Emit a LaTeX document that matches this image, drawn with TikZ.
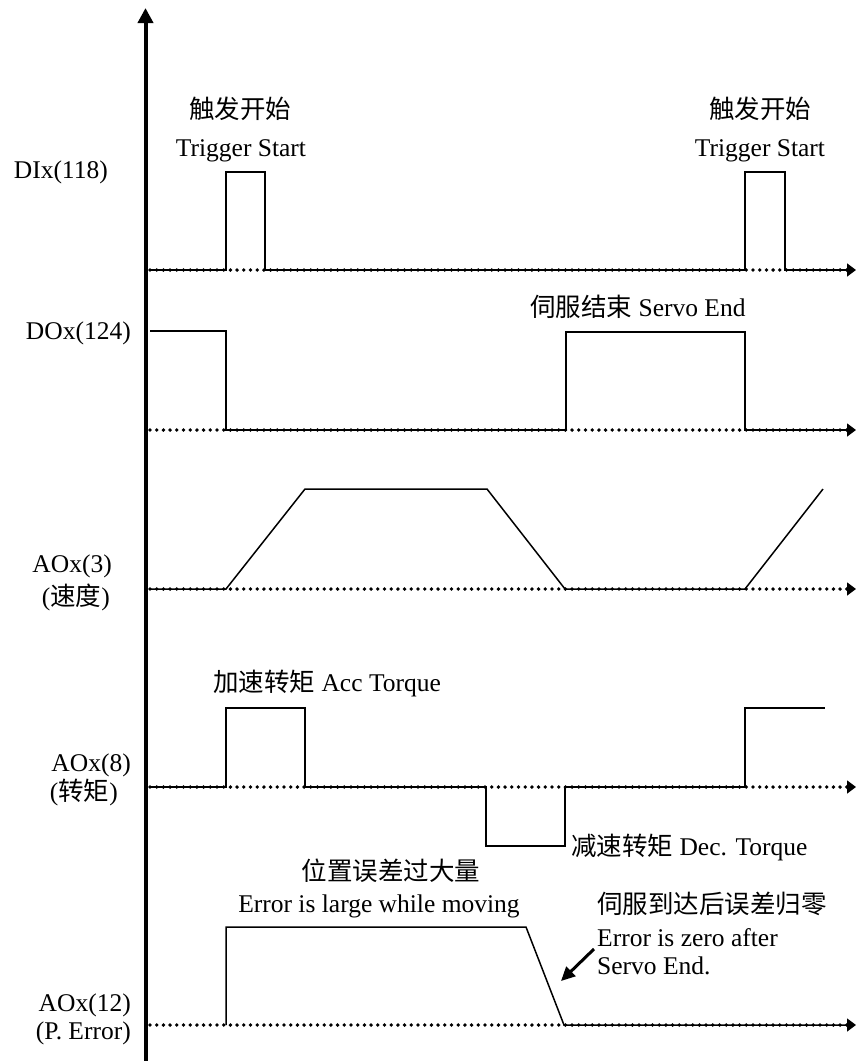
\documentclass[tikz,border=0pt]{standalone}
\usepackage{fontspec}
\setmainfont{Liberation Serif}
\newfontfamily\cjk{Noto Sans CJK SC}
\usetikzlibrary{arrows.meta}
\tikzset{
  dotline/.style={line width=3.8pt, line cap=round, dash pattern=on 0pt off 6.7pt},
  axtip/.style={line width=1.5pt, -{Triangle[length=9pt,width=13pt]}},
  sig/.style={line width=1.5pt, line join=miter},
  lbl/.style={inner sep=0pt, font=\fontsize{25.5}{30}\selectfont},
}
\begin{document}
\begin{tikzpicture}[x=1pt,y=-1pt]
\useasboundingbox (0,0) rectangle (856,1061);
\fill[white] (0,0) rectangle (856,1061);
% vertical axis
\coordinate (vb) at (145.5,1061);
\coordinate (vt) at (145.5,8);
\draw[line width=4pt, -{Triangle[length=15pt,width=15pt]}] (vb) -- (vt);
% baselines
\foreach \n/\y in {di/270, do/430, av/589, at/787, ae/1025}{
  \coordinate (\n S) at (150,\y);
  \coordinate (\n E) at (856,\y);
  \draw[dotline] (\n S) -- ([xshift=-7]\n E);
  \draw[axtip] ([xshift=-10]\n E) -- (\n E);
}
% DI
\draw[sig] (diS) -- (226,270) -- (226,172) -- (265,172) -- (265,270) -- (745,270) -- (745,172) -- (785,172) -- (785,270) -- ([xshift=-9]diE);
% DO
\draw[sig] (doS |- 0,331) -- (226,331) -- (226,430) -- (566,430) -- (566,332) -- (745,332) -- (745,430) -- ([xshift=-9]doE);
% AO speed
\draw[sig] (avS) -- (226,589) -- (305,489) -- (487,489) -- (565,589) -- (745,589) -- (823,489);
% AO torque
\draw[sig] (atS) -- (226,787) -- (226,708) -- (305,708) -- (305,787) -- (486,787) -- (486,846) -- (565,846) -- (565,787) -- (745,787) -- (745,708) -- (825,708);
% AO error
\draw[sig] (226,1025) -- (226,927) -- (526,927) -- (564,1025) -- ([xshift=-9]aeE);
% small arrow
\coordinate (ezA) at (594,949);
\coordinate (ezB) at (561,981);
\draw[line width=3pt, -{Triangle[length=14pt,width=13pt]}] (ezA) -- (ezB);
% left labels
\node[lbl, anchor=base east] (l1) at (108,178) {DIx(118)};
\node[lbl, anchor=base east] (l2) at (131,339) {DOx(124)};
\node[lbl, anchor=base east] (l3) at (112,572) {AOx(3)};
\node[lbl, anchor=base east] (l3b) at (110,605) {(\cjk 速度\normalfont)};
\node[lbl, anchor=base east] (l4) at (131,771) {AOx(8)};
\node[lbl, anchor=base east] (l4b) at (118,800) {(\cjk 转矩\normalfont)};
\node[lbl, anchor=base east] (l5) at (131,1011) {AOx(12)};
\node[lbl, anchor=base east] (l5b) at (131,1039) {(P. Error)};
% annotations
\node[lbl, anchor=base] (t1) at (240,118) {\cjk 触发开始};
\node[lbl, anchor=base] (t1b) at (241,156) {Trigger Start};
\node[lbl, anchor=base] (t2) at (760,118) {\cjk 触发开始};
\node[lbl, anchor=base] (t2b) at (760,156) {Trigger Start};
\node[lbl, anchor=base west] (se) at (530,316) {{\cjk 伺服结束} Servo End};
\node[lbl, anchor=base west] (ac) at (213,691) {{\cjk 加速转矩} Acc Torque};
\node[lbl, anchor=base west] (dc) at (571,855) {{\cjk 减速转矩} Dec. Torque};
\node[lbl, anchor=base] (er1) at (391,880) {\cjk 位置误差过大量};
\node[lbl, anchor=base] (er2) at (379,912) {Error is large while moving};
\node[lbl, anchor=base west] (ez1) at (597,913) {\cjk 伺服到达后误差归零};
\node[lbl, anchor=base west] (ez2) at (597,946) {Error is zero after};
\node[lbl, anchor=base west] (ez3) at (597,974) {Servo End.};
\end{tikzpicture}
\end{document}
